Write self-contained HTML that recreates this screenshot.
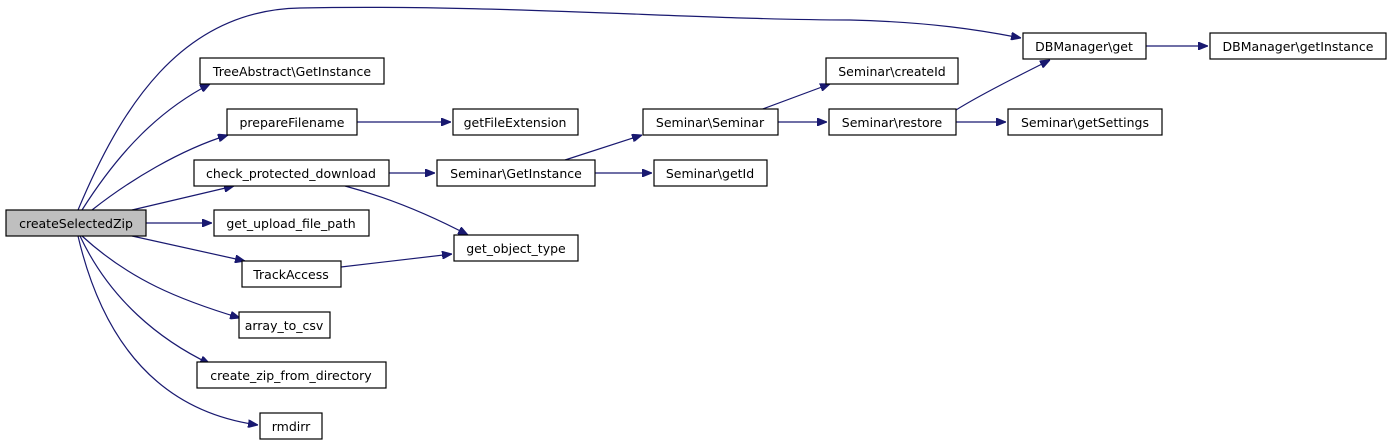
<!DOCTYPE html>
<html><head><meta charset="utf-8"><style>
html,body{margin:0;padding:0;background:#fff;}
svg{display:block;}
text{font-family:"DejaVu Sans","Liberation Sans",sans-serif;font-size:12.5px;fill:#000;text-anchor:middle;}
.b{fill:#fff;stroke:#000;stroke-width:1.2;}
.e{fill:none;stroke:#191970;stroke-width:1.2;}
</style></head><body>
<svg width="1392" height="445" viewBox="0 0 1392 445" xmlns="http://www.w3.org/2000/svg">
<defs><marker id="a" viewBox="0 0 10 8" refX="10" refY="4" markerWidth="10" markerHeight="8" markerUnits="userSpaceOnUse" orient="auto"><path d="M0,0L10,4L0,8z" fill="#191970" stroke="#191970"/></marker></defs>
<g class="e" marker-end="url(#a)">
<path d="M78,210 C120,110 180,10 300,8 C500,4 700,20 850,20 C930,22 980,30 1021,38"/>
<path d="M956,110 C980,95 1020,75 1050,60"/>
<path d="M1146,46 L1208,46"/>
<path d="M956,122 L1006,122"/>
<path d="M82,210 C120,150 160,110 210,84"/>
<path d="M92,210 C130,180 180,150 228,135"/>
<path d="M357,122 L451,122"/>
<path d="M132,210 L234,186"/>
<path d="M146,223 L212,223"/>
<path d="M132,236 L245,261"/>
<path d="M82,236 C130,280 180,300 240,318"/>
<path d="M80,236 C110,300 160,340 210,364"/>
<path d="M78,236 C100,330 150,410 258,425"/>
<path d="M389,173 L435,173"/>
<path d="M345,186 C390,198 430,215 468,235"/>
<path d="M341,267 L452,254"/>
<path d="M565,160 L642,135"/>
<path d="M595,173 L652,173"/>
<path d="M760,110 L830,84"/>
<path d="M778,122 L827,122"/>
</g>
<rect x="6" y="210" width="140" height="26" fill="#bfbfbf" stroke="#000" stroke-width="1.2"/>
<text x="76" y="228">createSelectedZip</text>
<rect class="b" x="1023" y="33" width="123" height="26"/><text x="1084" y="51">DBManager\get</text>
<rect class="b" x="1210" y="33" width="176" height="26"/><text x="1298" y="51">DBManager\getInstance</text>
<rect class="b" x="1008" y="109" width="154" height="26"/><text x="1085" y="127">Seminar\getSettings</text>
<rect class="b" x="200" y="58" width="184" height="26"/><text x="292" y="76">TreeAbstract\GetInstance</text>
<rect class="b" x="227" y="109" width="130" height="26"/><text x="292" y="127">prepareFilename</text>
<rect class="b" x="453" y="109" width="125" height="26"/><text x="515" y="127">getFileExtension</text>
<rect class="b" x="194" y="160" width="195" height="26"/><text x="291" y="178">check_protected_download</text>
<rect class="b" x="214" y="210" width="155" height="26"/><text x="291" y="228">get_upload_file_path</text>
<rect class="b" x="242" y="261" width="99" height="26"/><text x="291" y="279">TrackAccess</text>
<rect class="b" x="239" y="312" width="91" height="26"/><text x="284" y="330">array_to_csv</text>
<rect class="b" x="197" y="362" width="189" height="26"/><text x="291" y="380">create_zip_from_directory</text>
<rect class="b" x="260" y="413" width="62" height="26"/><text x="291" y="431">rmdirr</text>
<rect class="b" x="454" y="235" width="124" height="26"/><text x="516" y="253">get_object_type</text>
<rect class="b" x="437" y="160" width="158" height="26"/><text x="516" y="178">Seminar\GetInstance</text>
<rect class="b" x="643" y="109" width="135" height="26"/><text x="710" y="127">Seminar\Seminar</text>
<rect class="b" x="654" y="160" width="113" height="26"/><text x="710" y="178">Seminar\getId</text>
<rect class="b" x="826" y="58" width="132" height="26"/><text x="892" y="76">Seminar\createId</text>
<rect class="b" x="829" y="109" width="127" height="26"/><text x="892" y="127">Seminar\restore</text>
</svg>
</body></html>
